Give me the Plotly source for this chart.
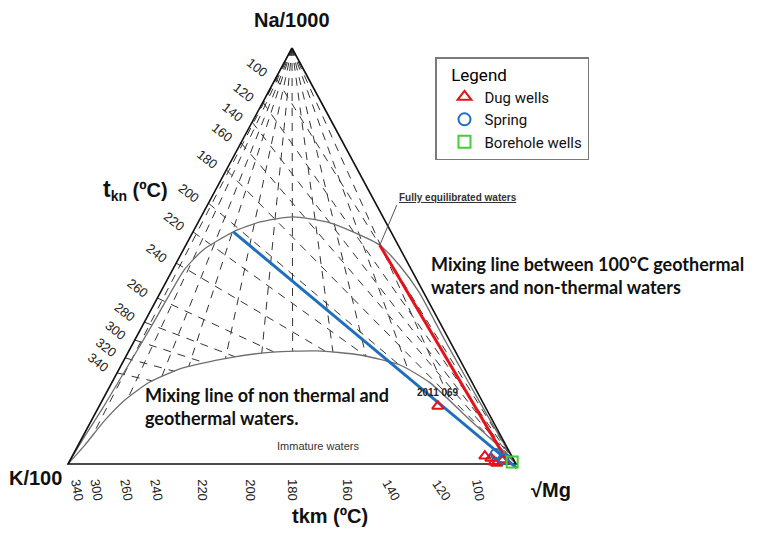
import numpy as np
import plotly.graph_objects as go

# ---------------- data ----------------
# Na-K geothermometer (t_kn) labels and their Na/1000 fraction on the Na-K side
tkn_values = [100, 120, 140, 160, 180, 200, 220, 240, 260, 280, 300, 320, 340]
tkn_na_frac = [0.928, 0.870, 0.822, 0.772, 0.707, 0.627, 0.558, 0.483, 0.399, 0.341, 0.298, 0.255, 0.219]

# K-Mg geothermometer (t_km) labels and their sqrt(Mg) fraction on the K-Mg side
tkm_values = [340, 300, 260, 240, 220, 200, 180, 160, 140, 120, 100]
tkm_mg_frac = [0.022, 0.065, 0.132, 0.199, 0.301, 0.408, 0.502, 0.625, 0.723, 0.835, 0.917]

# Full equilibrium curve (Na/1000 and sqrt(Mg) fractions, K/100 = remainder)
full_na = [0.000, 0.067, 0.130, 0.202, 0.274, 0.346, 0.411, 0.466, 0.514, 0.558, 0.582, 0.594,
           0.582, 0.558, 0.526, 0.476, 0.413, 0.300, 0.200, 0.100, 0.000]
full_mg = [0.000, 0.004, 0.010, 0.014, 0.018, 0.021, 0.023, 0.026, 0.044, 0.090, 0.138, 0.205,
           0.287, 0.357, 0.433, 0.503, 0.577, 0.690, 0.792, 0.895, 1.000]

# Partial equilibrium (immature water) boundary
part_na = [0.000, 0.046, 0.106, 0.154, 0.197, 0.231, 0.257, 0.269, 0.272, 0.262, 0.238, 0.195,
           0.106, 0.051, 0.000]
part_mg = [0.000, 0.015, 0.030, 0.050, 0.084, 0.141, 0.240, 0.323, 0.420, 0.521, 0.622, 0.711,
           0.844, 0.928, 1.000]

# Mixing lines
mix_red_na = [0.526, 0.000]
mix_red_mg = [0.433, 0.984]
mix_blue_na = [0.558, -0.010]
mix_blue_mg = [0.090, 1.007]

# Samples
dug_na = [0.139, 0.019, 0.014, 0.002, 0.010, 0.005]
dug_mg = [0.756, 0.921, 0.937, 0.956, 0.966, 0.949]
spring_na = [0.024, 0.012]
spring_mg = [0.943, 0.966]
bore_na = [0.005]
bore_mg = [0.989]

# label-angle styles for the bottom ticks
tkm_angles = [80, 80, 80, 80, 90, 90, 90, 90, 60, 55, 80]

# ---------------- layout geometry (page pixels; page body has an 8px margin) ----------------
PAGE_OFF = 8
FIG_W, FIG_H = 761 - PAGE_OFF, 534 - PAGE_OFF
K_X, BASE_Y, SIDE, HEIGHT = 68 - PAGE_OFF, 464 - PAGE_OFF, 448, 416


def px(xp):
    return (xp - PAGE_OFF) / FIG_W


def py(yp):
    return 1 - (yp - PAGE_OFF) / FIG_H


def to_xy(na, mg):
    na = np.asarray(na, dtype=float)
    mg = np.asarray(mg, dtype=float)
    return mg + na / 2.0, na


def first_hit(p0, p1, qx, qy):
    best = 1.0
    r = p1 - p0
    for i in range(len(qx) - 1):
        q0 = np.array([qx[i], qy[i]])
        q1 = np.array([qx[i + 1], qy[i + 1]])
        s = q1 - q0
        den = r[0] * s[1] - r[1] * s[0]
        if abs(den) < 1e-12:
            continue
        qp = q0 - p0
        t = (qp[0] * s[1] - qp[1] * s[0]) / den
        u = (qp[0] * r[1] - qp[1] * r[0]) / den
        if 1e-6 < t < 1 - 1e-6 and -1e-9 <= u <= 1 + 1e-9:
            best = min(best, t)
    return best


fig = go.Figure()

lx, ly = to_xy(part_na, part_mg)

dx, dy = [], []
mg_corner = np.array(to_xy(0, 1), dtype=float)
for a in tkn_na_frac:
    p0 = np.array(to_xy(a, 0), dtype=float)
    t = first_hit(p0, mg_corner, lx, ly)
    p1 = p0 + t * (mg_corner - p0)
    dx += [p0[0], p1[0], None]
    dy += [p0[1], p1[1], None]
apex = np.array(to_xy(1, 0), dtype=float)
for c in tkm_mg_frac:
    pb = np.array(to_xy(0, c), dtype=float)
    t = first_hit(apex, pb, lx, ly)
    p1 = apex + t * (pb - apex)
    dx += [apex[0], p1[0], None]
    dy += [apex[1], p1[1], None]

fig.add_trace(go.Scatter(x=dx, y=dy, mode="lines", showlegend=False, hoverinfo="skip",
                         line=dict(color="#333333", width=1, dash="8px,7px")))

fx, fy = to_xy(full_na, full_mg)
fig.add_trace(go.Scatter(x=fx, y=fy, mode="lines", showlegend=False, hoverinfo="skip",
                         line=dict(color="#6e6e6e", width=1.3, shape="spline", smoothing=0.6)))
fig.add_trace(go.Scatter(x=lx, y=ly, mode="lines", showlegend=False, hoverinfo="skip",
                         line=dict(color="#6e6e6e", width=1.3, shape="spline", smoothing=0.6)))

tri_na = [1, 0, 0, 1]
tri_mg = [0, 0, 1, 0]
tx, ty = to_xy(tri_na, tri_mg)
fig.add_trace(go.Scatter(x=tx, y=ty, mode="lines", showlegend=False, hoverinfo="skip",
                         line=dict(color="#111111", width=1.6)))

rx, ry = to_xy(mix_red_na, mix_red_mg)
fig.add_trace(go.Scatter(x=rx, y=ry, mode="lines", showlegend=False, hoverinfo="skip",
                         line=dict(color="#e5121a", width=3)))
bx, by = to_xy(mix_blue_na, mix_blue_mg)
fig.add_trace(go.Scatter(x=bx, y=by, mode="lines", showlegend=False, hoverinfo="skip",
                         line=dict(color="#1f6fbd", width=3)))

x1, y1 = to_xy(dug_na, dug_mg)
fig.add_trace(go.Scatter(x=x1, y=y1, mode="markers", name="Dug wells",
                         marker=dict(symbol="triangle-up-open", size=10, color="#e5121a",
                                     line=dict(width=2))))
x2, y2 = to_xy(spring_na, spring_mg)
fig.add_trace(go.Scatter(x=x2, y=y2, mode="markers", name="Spring",
                         marker=dict(symbol="circle-open", size=10, color="#1f6fbd",
                                     line=dict(width=2))))
x3, y3 = to_xy(bore_na, bore_mg)
fig.add_trace(go.Scatter(x=x3, y=y3, mode="markers", name="Borehole wells",
                         marker=dict(symbol="square-open", size=11, color="#45cc3a",
                                     line=dict(width=2))))

ann = []
tick_font = dict(family="Liberation Sans, Arial, sans-serif", size=13, color="#222222")
for v, a in zip(tkn_values, tkn_na_frac):
    x, y = to_xy(a, 0)
    ann.append(dict(x=float(x), y=float(y), text=str(v), showarrow=False, xshift=-19, yshift=10,
                    textangle=38, font=tick_font))
for v, c, ang in zip(tkm_values, tkm_mg_frac, tkm_angles):
    x, y = to_xy(0, c)
    ann.append(dict(x=float(x), y=float(y), text=str(v), showarrow=False, yshift=-26,
                    textangle=ang, font=tick_font))

title_font = dict(family="Liberation Sans Narrow, Arial Narrow, Liberation Sans, Arial", size=20,
                  color="#111111")
ax_, ay_ = to_xy(1, 0)
ann.append(dict(x=float(ax_), y=float(ay_), text="<b>Na/1000</b>", showarrow=False, yshift=28,
                font=title_font))
kx, ky = to_xy(0, 0)
ann.append(dict(x=float(kx), y=float(ky), text="<b>K/100</b>", showarrow=False, xshift=-33,
                yshift=-14, font=title_font))
mx, my = to_xy(0, 1)
ann.append(dict(x=float(mx), y=float(my), text="<b>√Mg</b>", showarrow=False, xshift=35,
                yshift=-26, font=title_font))
ann.append(dict(xref="paper", yref="paper", x=px(136), y=py(190), xanchor="center",
                yanchor="middle",
                text="<b><span style='font-size:23px'>t</span><sub>kn</sub> (ºC)</b>",
                showarrow=False, font=title_font))
ann.append(dict(xref="paper", yref="paper", x=px(330), y=py(516), xanchor="center",
                yanchor="middle", text="<b>tkm (ºC)</b>", showarrow=False, font=title_font))

note_font = dict(family="Lato, Carlito, Calibri, sans-serif", size=18, color="#111111")
ann.append(dict(xref="paper", yref="paper", x=px(429), y=py(275), xanchor="left",
                yanchor="middle", align="left", showarrow=False, font=note_font,
                text="<b>Mixing line between 100°C geothermal<br>waters and non-thermal waters</b>"))
ann.append(dict(xref="paper", yref="paper", x=px(143), y=py(406), xanchor="left",
                yanchor="middle", align="left", showarrow=False, font=note_font,
                text="<b>Mixing line of non thermal and<br>geothermal waters.</b>"))
ann.append(dict(xref="paper", yref="paper", x=px(318), y=py(446), xanchor="center",
                yanchor="middle", showarrow=False, text="Immature waters",
                font=dict(family="Liberation Sans, Arial", size=11, color="#333333")))
sx, sy = to_xy(dug_na[0], dug_mg[0])
ann.append(dict(x=float(sx), y=float(sy), text="<b>2011 069</b>", showarrow=False, xshift=0,
                yshift=14, font=dict(family="Liberation Sans, Arial", size=10, color="#222222")))
ex, ey = to_xy(mix_red_na[0], mix_red_mg[0])
ann.append(dict(x=float(ex), y=float(ey), text="<b><u>Fully equilibrated waters</u></b>",
                showarrow=True, arrowhead=0, arrowwidth=1, arrowcolor="#555555", ax=17, ay=-40,
                xanchor="left", yanchor="bottom",
                font=dict(family="Liberation Sans Narrow, Arial Narrow, Liberation Sans", size=10,
                          color="#333333")))

fig.update_layout(
    width=FIG_W, height=FIG_H, autosize=False,
    margin=dict(l=0, r=0, t=0, b=0, autoexpand=False),
    paper_bgcolor="white", plot_bgcolor="white",
    xaxis=dict(visible=False, range=[-K_X / SIDE, (FIG_W - K_X) / SIDE], fixedrange=True),
    yaxis=dict(visible=False, range=[(BASE_Y - FIG_H) / HEIGHT, BASE_Y / HEIGHT], fixedrange=True),
    annotations=ann,
    legend=dict(x=px(435), y=py(57), xanchor="left", yanchor="top",
                bgcolor="white", bordercolor="#7a7a7a", borderwidth=1.5,
                title=dict(text="&nbsp;&nbsp;&nbsp;Legend",
                           font=dict(family="Roboto, Arial", size=17, color="#000")),
                font=dict(family="Roboto, Arial", size=15, color="#111"),
                indentation=8, entrywidth=112,
                itemsizing="constant", tracegroupgap=4),
)

fig.write_html("out.html")
